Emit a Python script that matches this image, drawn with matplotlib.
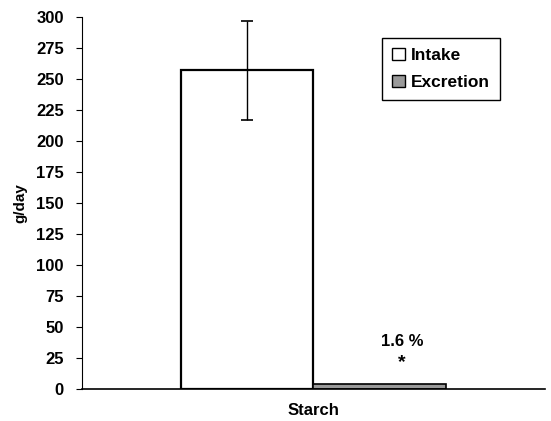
import matplotlib
matplotlib.use("Agg")
import matplotlib.pyplot as plt
from matplotlib.patches import Patch

plt.rcParams['font.family'] = ['Liberation Sans', 'DejaVu Sans']
plt.rcParams['font.weight'] = 'bold'

categories = ["Starch"]
series = ["Intake", "Excretion"]
values = [257, 4.2]
errors = [40, 0]
yticks = [0, 25, 50, 75, 100, 125, 150, 175, 200, 225, 250, 275, 300]
annotation = "1.6 %"

fig = plt.figure(figsize=(5.51, 4.21), dpi=100)
ax = fig.add_axes([0.1488, 0.076, 0.8402, 0.8836])

offsets = [-0.5, 0.5]
colors = ['white', '#9a9a9a']
for i in range(2):
    ax.bar(offsets[i], values[i], width=1.0, color=colors[i], edgecolor='black',
           linewidth=1.6 if i == 0 else 1.2, zorder=2)
ax.errorbar(offsets[0], values[0], yerr=errors[0], fmt='none', ecolor='black',
            elinewidth=1.0, capsize=4, capthick=1.2, zorder=3)

ax.text(offsets[1] + 0.17, 38, annotation, ha='center', va='center', fontsize=12, fontweight='bold')
ax.text(offsets[1] + 0.17, 21, "*", ha='center', va='center', fontsize=14, fontweight='bold')

ax.set_xlim(-1.75, 1.75)
ax.set_ylim(0, 300)
ax.set_yticks(yticks)
ax.set_yticklabels([str(t) for t in yticks], fontsize=12, fontweight='bold')
ax.set_xticks([0])
ax.set_xticklabels(categories, fontsize=12, fontweight='bold')
ax.tick_params(axis='x', length=0, pad=10)
ax.tick_params(axis='y', direction='out', length=4, width=0.8, pad=9)
ax.set_ylabel("g/day", fontsize=11, fontweight='bold', labelpad=6)
for s in ['top', 'right']:
    ax.spines[s].set_visible(False)
ax.spines['left'].set_linewidth(0.8)
ax.spines['bottom'].set_linewidth(1.2)

handles = [Patch(facecolor=colors[0], edgecolor='black', linewidth=1.0),
           Patch(facecolor=colors[1], edgecolor='black', linewidth=1.0)]
leg = ax.legend(handles, series, loc='upper left', bbox_to_anchor=(0.648, 0.944),
                borderaxespad=0, fancybox=False, edgecolor='black', framealpha=1,
                prop={'family': 'Liberation Sans', 'weight': 'bold', 'size': 12.5},
                handlelength=0.7, handleheight=0.7, handletextpad=0.35,
                labelspacing=0.65, borderpad=0.6)
leg.get_frame().set_linewidth(1.0)

fig.savefig("out.png", dpi=100)
